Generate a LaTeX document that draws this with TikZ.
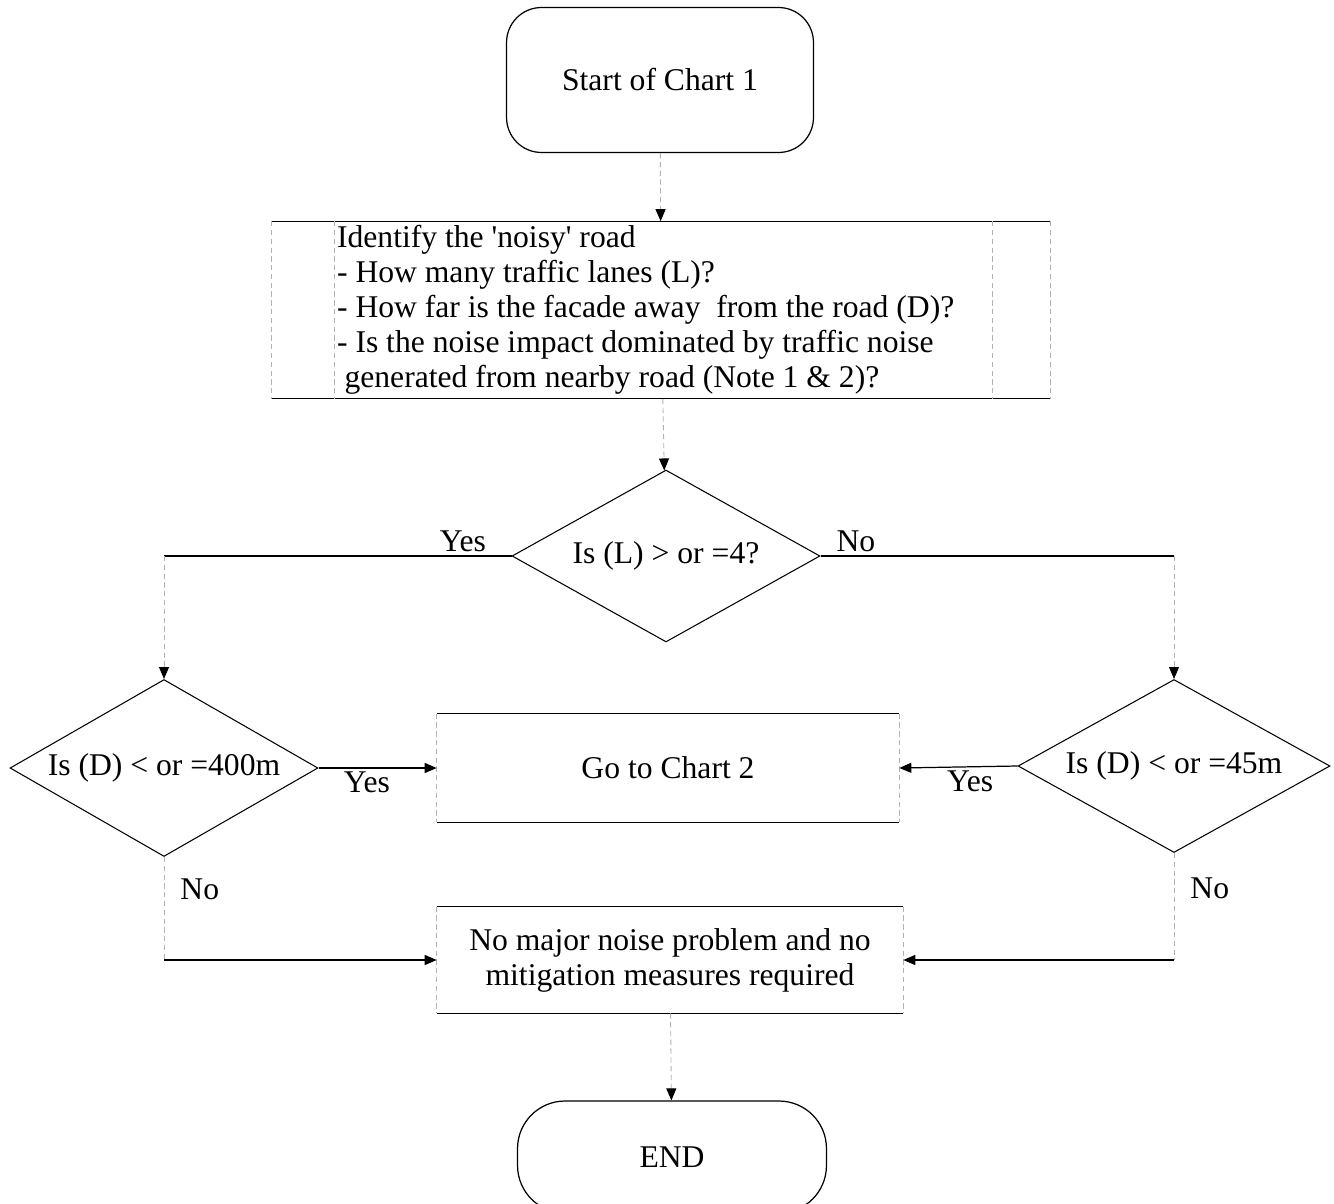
\documentclass[tikz,border=0pt]{standalone}
\usepackage{fontspec}
\setmainfont{Liberation Serif}
\usetikzlibrary{shapes.geometric,arrows.meta}

\tikzset{
    every node/.style={font=\fontsize{18}{19.9}\selectfont},
    terminal/.style={draw, line width=0.7pt, rectangle, rounded corners=0.7cm},
    decision/.style={draw, line width=0.6pt, diamond, aspect=2.2, inner sep=0pt},
    chartbox/.style={rectangle, inner sep=0pt},
    faint/.style={black!30, densely dashed, line width=0.5pt},
    solidline/.style={black, line width=0.7pt},
    arr/.style={-{Triangle[length=0.24cm,width=0.2cm,color=black]}},
    lbl/.style={inner sep=2pt, text=black}
}

\begin{document}
\begin{tikzpicture}[x=0.02cm,y=-0.02cm]
        \useasboundingbox (0,0) rectangle (1334,1203);
        % nodes
        \node[terminal, minimum width=6.14cm, minimum height=2.9cm] (start) at (660,80) {Start of Chart 1};
        \node[chartbox, minimum width=15.56cm, minimum height=3.54cm, text width=12.96cm,
              inner xsep=1.3cm, align=flush left] (ident) at (661,310)
            {Identify the \textquotesingle noisy\textquotesingle\ road\\
             - How many traffic lanes (L)?\\
             - How far is the facade away~ from the road (D)?\\
             - Is the noise impact dominated by traffic noise\\
             \hspace*{0.15cm}generated from nearby road (Note 1 \& 2)?};
        \node[decision, minimum width=6.16cm, minimum height=3.44cm] (lanes) at (666,556) {Is (L) > or =4?};
        \node[decision, minimum width=6.16cm, minimum height=3.54cm] (dist400) at (164,768) {Is (D) < or =400m};
        \node[decision, minimum width=6.24cm, minimum height=3.46cm] (dist45) at (1174,766) {Is (D) < or =45m};
        \node[chartbox, minimum width=9.24cm, minimum height=2.16cm] (chart2) at (668,768) {Go to Chart 2};
        \node[chartbox, minimum width=9.32cm, minimum height=2.12cm, align=center] (nomaj) at (670,960)
            {No major noise problem and no\\mitigation measures required};
        \node[terminal, rounded corners=0.95cm, minimum width=6.18cm, minimum height=2.24cm] (endn) at (672,1157) {END};

        % box outlines
        \foreach \n in {ident,chart2,nomaj} {
            \draw[solidline] (\n.north west) -- (\n.north east);
            \draw[solidline] (\n.south west) -- (\n.south east);
            \draw[faint] (\n.north west) -- (\n.south west);
            \draw[faint] (\n.north east) -- (\n.south east);
        }
        \draw[faint] ([xshift=1.26cm]ident.north west) -- ([xshift=1.26cm]ident.south west);
        \draw[faint] ([xshift=-1.16cm]ident.north east) -- ([xshift=-1.16cm]ident.south east);

        % connectors
        \coordinate (yesturn) at (dist400.north |- lanes.west);
        \coordinate (noturn) at (dist45.north |- lanes.east);
        \coordinate (noleft) at (dist400.south |- nomaj.west);
        \coordinate (noright) at (dist45.south |- nomaj.east);

        \draw[faint, arr] (start) -- (ident);
        \draw[faint, arr] (ident) -- (lanes);
        \draw[solidline] (lanes.west) -- node[lbl, pos=0.14, above] {Yes} (yesturn);
        \draw[faint, arr] (yesturn) -- (dist400.north);
        \draw[solidline] (lanes.east) -- node[lbl, pos=0.1, above] {No} (noturn);
        \draw[faint, arr] (noturn) -- (dist45.north);
        \draw[solidline, arr] (dist400.east) -- node[lbl, pos=0.41, below] {Yes} (chart2.west);
        \draw[solidline, arr] (dist45.west) -- node[lbl, pos=0.4, below] {Yes} (chart2.east);
        \draw[faint] (dist400.south) -- node[lbl, pos=0.31, right, xshift=0.25cm] {No} (noleft);
        \draw[solidline, arr] (noleft) -- (nomaj.west);
        \draw[faint] (dist45.south) -- node[lbl, pos=0.33, right, xshift=0.25cm] {No} (noright);
        \draw[solidline, arr] (noright) -- (nomaj.east);
        \draw[faint, arr] (nomaj) -- (endn);
    \end{tikzpicture}
\end{document}
